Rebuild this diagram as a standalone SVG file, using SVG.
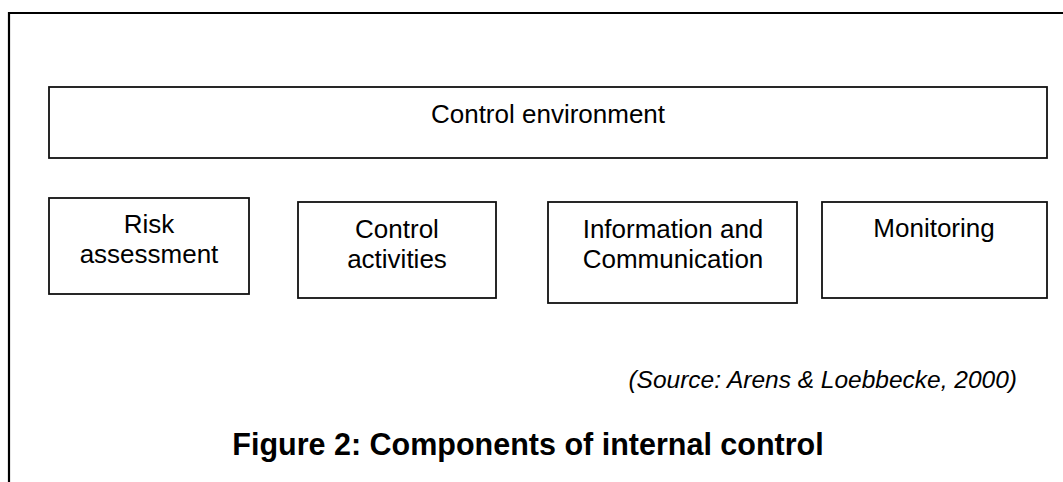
<svg xmlns="http://www.w3.org/2000/svg" width="1063" height="482" viewBox="0 0 1063 482">
  <style>
    .frame { fill: none; stroke: #000; stroke-width: 2.2; }
    .box { fill: #fff; stroke: #111; stroke-width: 1.8; }
    .label { font-family: "Liberation Sans", Arial, sans-serif; font-size: 26px; fill: #000; text-anchor: middle; }
    .source { font-family: "Liberation Sans", Arial, sans-serif; font-size: 24.5px; font-style: italic; fill: #000; text-anchor: end; }
    .title { font-family: "Liberation Sans", Arial, sans-serif; font-size: 30.5px; font-weight: bold; fill: #000; text-anchor: middle; }
  </style>
  <rect width="1063" height="482" fill="#fff"/>

  <!-- page frame: top and left rules -->
  <path class="frame" d="M9,482 V13 H1063"/>

  <g id="control-environment">
    <rect class="box" x="49" y="87" width="998" height="71"/>
    <text class="label" x="548" y="123">Control environment</text>
  </g>

  <g id="risk-assessment">
    <rect class="box" x="49" y="198" width="200" height="96"/>
    <text class="label" x="149" y="233">Risk</text>
    <text class="label" x="149" y="263">assessment</text>
  </g>

  <g id="control-activities">
    <rect class="box" x="298" y="202" width="198" height="96"/>
    <text class="label" x="397" y="238">Control</text>
    <text class="label" x="397" y="268">activities</text>
  </g>

  <g id="information-communication">
    <rect class="box" x="548" y="202" width="249" height="101"/>
    <text class="label" x="673" y="238">Information and</text>
    <text class="label" x="673" y="268">Communication</text>
  </g>

  <g id="monitoring">
    <rect class="box" x="822" y="202" width="225" height="96"/>
    <text class="label" x="934" y="237">Monitoring</text>
  </g>

  <g id="connectors"></g>

  <text class="source" x="1017" y="388">(Source: Arens &amp; Loebbecke, 2000)</text>
  <text class="title" x="528" y="455">Figure 2: Components of internal control</text>
</svg>
